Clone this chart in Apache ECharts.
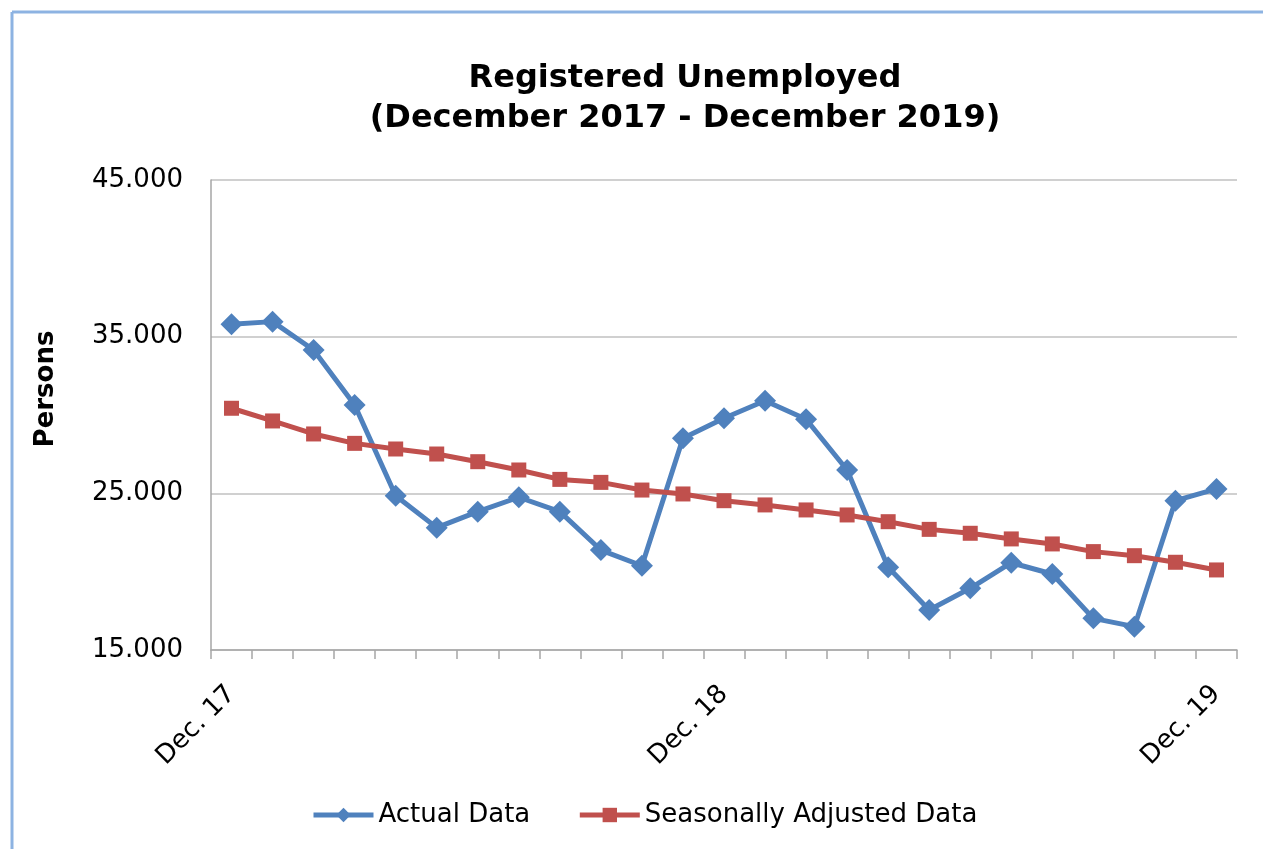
<!DOCTYPE html>
<html>
<head>
<meta charset="utf-8">
<script src="https://cdn.jsdelivr.net/npm/echarts@6/dist/echarts.min.js"></script>
<style>
html,body{margin:0;padding:0;background:#fff;}
#chart{width:1263px;height:849px;}
</style>
</head>
<body>
<div id="chart"></div>
<script>
const categories = ['Dec. 17','Jan. 18','Feb. 18','Mar. 18','Apr. 18','May 18','Jun. 18','Jul. 18','Aug. 18','Sep. 18','Oct. 18','Nov. 18',
  'Dec. 18','Jan. 19','Feb. 19','Mar. 19','Apr. 19','May 19','Jun. 19','Jul. 19','Aug. 19','Sep. 19','Oct. 19','Nov. 19','Dec. 19'];
const actualData = [35790, 35960, 34150, 30640, 24850, 22810, 23830, 24750, 23830, 21380, 20380, 28510,
  29790, 30910, 29730, 26490, 20280, 17550, 18940, 20570, 19850, 17020, 16490, 24530, 25280];
const seasonallyAdjusted = [30430, 29620, 28790, 28190, 27830, 27510, 27020, 26490, 25890, 25700, 25210, 24960,
  24530, 24260, 23940, 23620, 23190, 22700, 22450, 22090, 21770, 21280, 21020, 20600, 20110];
const yTicks = {min: 15000, max: 45000, interval: 10000};
const titleText = 'Registered Unemployed\n(December 2017 - December 2019)';
const yName = 'Persons';
const seriesNames = ['Actual Data', 'Seasonally Adjusted Data'];

const chart = echarts.init(document.getElementById('chart'));
const font = 'DejaVu Sans, Verdana, sans-serif';
chart.setOption({
  animation: false,
  backgroundColor: '#fff',
  title: {
    text: titleText,
    left: 680,
    top: 54,
    textAlign: 'center',
    textStyle: {fontFamily: font, fontWeight: 'bold', fontSize: 32, lineHeight: 40, color: '#000'}
  },
  graphic: [
    {type: 'line', shape: {x1: 12, y1: 12, x2: 1263, y2: 12}, style: {stroke: '#8db3e2', lineWidth: 3}},
    {type: 'line', shape: {x1: 12, y1: 12, x2: 12, y2: 849}, style: {stroke: '#8db3e2', lineWidth: 3}}
  ],
  legend: {
    data: seriesNames,
    left: 311,
    top: 802,
    padding: 0,
    itemWidth: 60,
    itemHeight: 18,
    itemGap: 47,
    lineStyle: {width: 5},
    textStyle: {fontFamily: font, fontSize: 26, color: '#000'}
  },
  grid: {left: 211, right: 26, top: 180, bottom: 199, containLabel: false},
  xAxis: {
    type: 'category',
    data: categories,
    boundaryGap: true,
    axisLine: {lineStyle: {color: '#a6a6a6', width: 1.5}},
    axisTick: {show: true, interval: 0, length: 9, lineStyle: {color: '#a6a6a6', width: 1.5}},
    axisLabel: {interval: 11, rotate: 45, margin: 40, fontFamily: font, fontSize: 26, color: '#000'},
    splitLine: {show: false}
  },
  yAxis: {
    type: 'value',
    min: yTicks.min,
    max: yTicks.max,
    interval: yTicks.interval,
    name: yName,
    nameLocation: 'middle',
    nameRotate: 90,
    nameGap: 152,
    nameTextStyle: {fontFamily: font, fontWeight: 'bold', fontSize: 26, color: '#000', padding: [0, 0, 0, 52]},
    axisLine: {show: true, lineStyle: {color: '#a6a6a6', width: 1.5}},
    axisTick: {show: false},
    axisLabel: {
      margin: 28,
      fontFamily: font, fontSize: 26, color: '#000',
      formatter: v => String(v).replace(/\B(?=(\d{3})+(?!\d))/g, '.')
    },
    splitLine: {lineStyle: {color: '#c0c0c0', width: 1.5}}
  },
  series: [
    {
      name: seriesNames[0],
      type: 'line',
      data: actualData,
      symbol: 'diamond',
      symbolSize: 22,
      color: '#4f81bd',
      lineStyle: {width: 5, color: '#4f81bd'},
      itemStyle: {color: '#4f81bd'}
    },
    {
      name: seriesNames[1],
      type: 'line',
      data: seasonallyAdjusted,
      symbol: 'rect',
      symbolSize: 15,
      color: '#c0504d',
      lineStyle: {width: 5, color: '#c0504d'},
      itemStyle: {color: '#c0504d'}
    }
  ]
});
</script>
</body>
</html>
